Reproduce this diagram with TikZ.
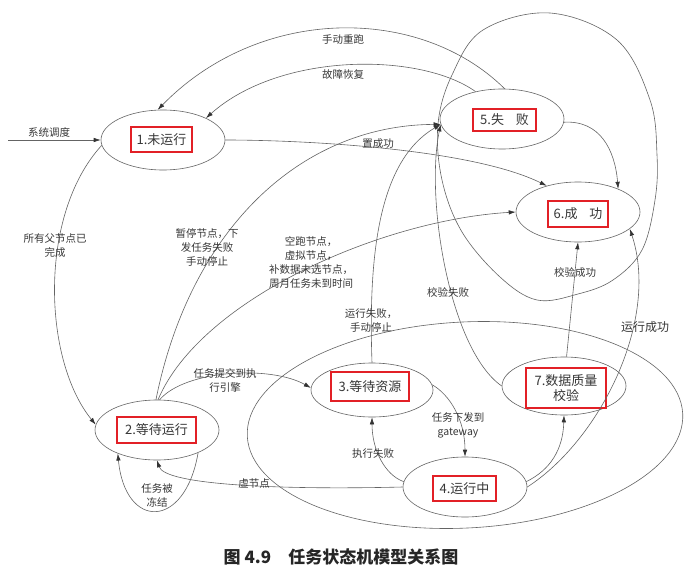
\documentclass[tikz,border=0pt]{standalone}
\usepackage{fontspec}
\setmainfont{Noto Sans CJK SC}
\usetikzlibrary{shapes.geometric,arrows.meta}
\definecolor{lg}{RGB}{100,100,100}
\definecolor{bred}{RGB}{226,32,38}
\definecolor{tx}{RGB}{55,55,55}
\begin{document}
\begin{tikzpicture}[x=1pt,y=-1pt,
 st/.style={draw=lg, line width=0.6pt, ellipse, inner sep=0pt, minimum width=124pt, minimum height=60pt},
 lab/.style={draw=bred, line width=1.8pt, inner sep=1pt, font=\fontsize{13}{15}\selectfont, text=tx, align=center},
 el/.style={font=\fontsize{10.5}{14}\selectfont, text=tx, align=center, inner sep=1pt},
 ed/.style={draw=lg, line width=0.6pt, -{Latex[length=7pt,width=4.5pt,color=black!80]}},
 big/.style={draw=lg, line width=0.6pt}]
\useasboundingbox (0,0) rectangle (698,575);
\fill[white] (0,0) rectangle (698,575);
% large enclosing loops
\draw[big] plot[smooth cycle, tension=0.6] coordinates {(550,13) (617,40) (650,100) (657,155) (655,200) (642,250) (613,280) (578,294) (537,300) (500,277) (462,232) (442,180) (438,124) (452,75) (483,30)};
\draw[big, rotate around={3:(465,425)}] (465,425) ellipse [x radius=218pt, y radius=103pt];
% states
\node[st] (n1) at (163,140) {};
\node[st] (n5) at (502,119) {};
\node[st] (n6) at (578,212) {};
\node[st, minimum height=58pt] (n7) at (564,386) {};
\node[st, minimum height=54pt, minimum width=122pt] (n3) at (372,390) {};
\node[st] (n4) at (465,487) {};
\node[st] (n2) at (157,430) {};
\node[lab, minimum width=61pt, minimum height=25pt] (l1) at (161.5,139.5) {1.未运行};
\node[lab, minimum width=63pt, minimum height=22pt] (l5) at (504.5,120) {5.失\hspace{0.9em}败};
\node[lab, minimum width=60pt, minimum height=26pt] (l6) at (578,214) {6.成\hspace{0.9em}功};
\node[lab, minimum width=80pt, minimum height=40pt] (l7) at (566,388) {7.数据质量\\校验};
\node[lab, minimum width=78pt, minimum height=29pt] (l3) at (370,386.5) {3.等待资源};
\node[lab, minimum width=63pt, minimum height=25pt] (l4) at (464.5,488.5) {4.运行中};
\node[lab, minimum width=79pt, minimum height=26pt] (l2) at (156.5,430) {2.等待运行};
% connectors
\coordinate (src) at (8,140);
\draw[ed] (src) -- (n1.180);
\node[el] (t0) at (49,132) {系统调度};
\draw[ed] (n5.85) .. controls (420,5) and (260,5) .. (n1.100);
\node[el] (t1) at (343,40) {手动重跑};
\draw[ed] (n5.134) .. controls (420,52) and (280,52) .. (n1.27);
\node[el] (t2) at (343,75) {故障恢复};
\draw[ed] (n1.0) .. controls (300,140) and (470,148) .. (n6.140);
\node[el] (t3) at (378,144) {置成功};
\draw[ed] (n5.357) .. controls (600,120) and (615,150) .. (n6.30);
\draw[ed] (n1.185) .. controls (38,215) and (43,360) .. (n2.175);
\node[el] (t4) at (55,246) {所有父节点已\\完成};
\draw[ed] (n2.331) .. controls (185,530) and (125,530) .. (n2.211);
\node[el] (t5) at (157,495) {任务被\\冻结};
\draw[ed] (n4.180) .. controls (280,490) and (165,485) .. (n2.270);
\node[el] (t6) at (254,483) {虚节点};
\draw[ed] (n2.85) .. controls (185,370) and (270,365) .. (n3.178);
\node[el] (t7) at (225,380) {任务提交到执\\行引擎};
\draw[ed] (n2.92) .. controls (190,230) and (300,125) .. (n5.185);
\node[el] (t8) at (207,247) {暂停节点，下\\发任务失败\\手动停止};
\draw[ed] (n2.88) .. controls (200,300) and (380,220) .. (n6.180);
\node[el] (t9) at (311,263) {空跑节点，\\虚拟节点，\\补数据未选节点，\\周月任务未到时间};
\draw[ed] (n3.90) .. controls (368,250) and (380,160) .. (n5.185);
\node[el] (t10) at (371,320) {运行失败，\\手动停止};
\draw[ed] (n7.180) .. controls (450,350) and (425,200) .. (n5.185);
\node[el] (t11) at (448,292) {校验失败};
\draw[ed] (n3.5) .. controls (450,395) and (465,420) .. (n4.90);
\node[el] (t12) at (458,425) {任务下发到\\gateway};
\draw[ed] (n4.175) .. controls (385,475) and (372,450) .. (n3.270);
\node[el] (t13) at (373,454) {执行失败};
\draw[ed] (n4.5) .. controls (550,470) and (563,450) .. (n7.270);
\draw[ed] (n7.85) -- (n6.270);
\node[el] (t14) at (575,273) {校验成功};
\draw[ed] (n4.0) .. controls (600,440) and (660,320) .. (n6.342);
\node[el, font=\fontsize{12}{14}\selectfont] (t15) at (645,327) {运行成功};
% caption
\node[font=\fontsize{17}{19}\selectfont\bfseries, text=black!85] (cap) at (341,557) {图 4.9\hspace{1em}任务状态机模型关系图};
\end{tikzpicture}
\end{document}
